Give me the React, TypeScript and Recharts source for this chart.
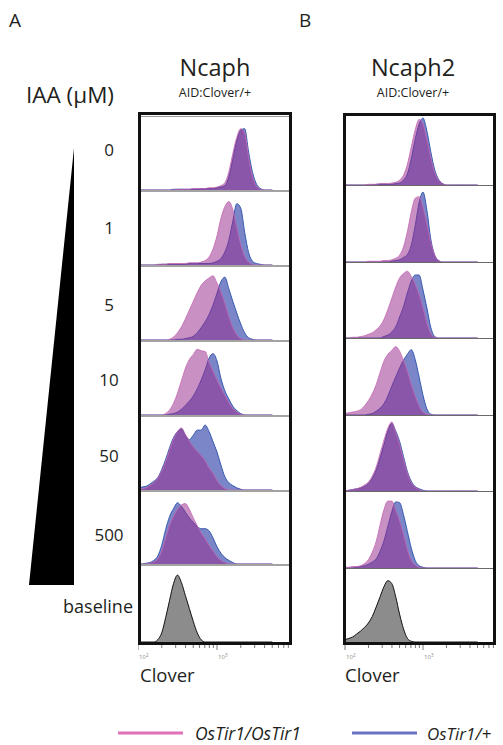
import React from 'react';
import { AreaChart, Area, XAxis, YAxis } from 'recharts';

// log10(Clover intensity) bin centres, 10^2 .. 10^3.7
const bins = [
  2.0, 2.05, 2.1, 2.15, 2.2, 2.25, 2.3, 2.35, 2.4, 2.45,
  2.5, 2.55, 2.6, 2.65, 2.7, 2.75, 2.8, 2.85, 2.9, 2.95,
  3.0, 3.05, 3.1, 3.15, 3.2, 3.25, 3.3, 3.35, 3.4, 3.45,
  3.5, 3.55, 3.6, 3.65, 3.7
];

const concentrations = ['0', '1', '5', '10', '50', '500', 'baseline'];
const axisTicks = [2, 2.301, 2.477, 2.602, 2.699, 2.778, 2.845, 2.903, 2.954, 3, 3.301, 3.477, 3.602, 3.699, 3.778, 3.845, 3.903];

// Ncaph AID:Clover/+  (% of modal height), OsTir1/OsTir1 = pink, OsTir1/+ = blue
const ncaphPink0 = [0,0,0,0,0,0,0,0,0,0, 1,1,1,1,2,2,2,2,3,3, 4,6,10,25,50,72,84,78,45,18, 5,1,0,0,0];
const ncaphBlue0 = [0,0,0,0,0,0,0,0,0,1, 1,1,1,1,1,1,2,2,2,2, 3,4,6,18,42,68,82,84,52,24, 8,2,0,0,0];
const ncaphPink1 = [0,0,0,0,0,1,1,1,2,2, 2,2,2,3,3,3,4,6,11,22, 40,64,80,87,76,52,28,12,4,1, 0,0,0,0,0];
const ncaphBlue1 = [0,0,0,0,0,0,1,1,1,1, 1,1,1,2,2,2,2,2,2,3, 5,9,18,34,60,84,78,45,17,5, 2,1,0,0,0];
const ncaphPink5 = [0,0,0,0,0,0,0,0,1,4, 10,18,29,41,53,65,75,81,85,88, 78,66,50,32,17,7,2,0,0,0, 0,0,0,0,0];
const ncaphBlue5 = [0,0,0,0,0,0,0,0,0,0, 1,1,2,3,5,10,17,25,35,48, 64,80,86,70,53,37,22,10,3,1, 0,0,0,0,0];
const ncaphPink10 = [0,0,0,0,0,0,0,2,7,16, 30,47,64,76,83,90,88,87,72,60, 48,37,27,17,9,4,1,0,0,0, 0,0,0,0,0];
const ncaphBlue10 = [0,0,0,0,0,0,0,0,1,2, 4,8,13,19,26,36,48,62,78,84, 74,50,33,22,12,6,2,0,0,0, 0,0,0,0,0];
const ncaphPink50 = [0,1,3,6,10,16,26,39,55,70, 80,85,76,67,59,53,47,40,30,23, 13,6,2,0,0,0,0,0,0,0, 0,0,0,0,0];
const ncaphBlue50 = [2,4,5,8,12,17,28,42,58,72, 80,84,75,69,75,82,82,89,80,66, 52,34,18,10,6,3,1,0,0,0, 0,0,0,0,0];
const ncaphPink500 = [0,0,0,1,3,7,18,36,54,66, 76,82,84,76,64,53,43,35,26,18, 10,5,2,0,0,0,0,0,0,0, 0,0,0,0,0];
const ncaphBlue500 = [0,0,1,2,5,11,26,48,66,77, 85,80,72,64,58,52,49,49,46,36, 24,15,9,5,2,0,0,0,0,0, 0,0,0,0,0];
const ncaphBaseline = [0,0,0,0,0,3,12,32,55,77, 88,78,61,44,27,12,3,0,0,0, 0,0,0,0,0,0,0,0,0,0, 0,0,0,0,0];

// Ncaph2 AID:Clover/+
const ncaph2Pink0 = [0,0,0,0,0,0,1,1,1,2, 2,2,3,4,7,14,30,55,80,95, 88,66,40,18,7,2,0,0,0,0, 0,0,0,0,0];
const ncaph2Blue0 = [0,0,0,0,0,0,0,0,1,1, 1,1,1,2,3,7,16,38,66,88, 97,78,48,22,8,2,0,0,0,0, 0,0,0,0,0];
const ncaph2Pink1 = [0,0,0,0,0,0,1,1,1,1, 2,2,3,5,9,20,40,66,84,86, 72,50,26,9,2,0,0,0,0,0, 0,0,0,0,0];
const ncaph2Blue1 = [0,0,0,0,0,0,0,0,0,0, 0,0,1,2,3,6,10,22,48,78, 92,68,30,9,2,0,0,0,0,0, 0,0,0,0,0];
const ncaph2Pink5 = [0,0,1,1,2,3,5,7,11,16, 25,38,53,68,80,86,89,82,72,58, 40,20,6,1,0,0,0,0,0,0, 0,0,0,0,0];
const ncaph2Blue5 = [0,0,0,0,0,0,0,0,0,0, 2,4,8,15,28,42,60,76,84,84, 64,40,14,2,0,0,0,0,0,0, 0,0,0,0,0];
const ncaph2Pink10 = [2,3,4,5,7,12,19,28,40,56, 71,80,85,90,84,72,58,40,25,12, 4,1,0,0,0,0,0,0,0,0, 0,0,0,0,0];
const ncaph2Blue10 = [0,0,0,0,0,0,1,2,5,9, 15,25,38,50,62,72,80,86,73,50, 26,8,1,0,0,0,0,0,0,0, 0,0,0,0,0];
const ncaph2Pink50 = [0,1,2,3,5,8,12,20,32,50, 68,84,92,78,62,42,24,11,5,2, 0,0,0,0,0,0,0,0,0,0, 0,0,0,0,0];
const ncaph2Blue50 = [0,1,2,3,4,6,10,17,28,44, 62,80,90,80,66,46,26,13,6,3, 1,0,0,0,0,0,0,0,0,0, 0,0,0,0,0];
const ncaph2Pink500 = [1,1,2,2,3,6,11,21,35,57, 77,88,88,76,62,44,24,10,4,1, 0,0,0,0,0,0,0,0,0,0, 0,0,0,0,0];
const ncaph2Blue500 = [0,0,0,1,2,3,5,8,12,22, 36,55,74,87,86,70,48,26,10,3, 1,0,0,0,0,0,0,0,0,0, 0,0,0,0,0];
const ncaph2Baseline = [3,5,7,11,15,20,26,35,48,62, 76,84,80,62,38,18,5,1,0,0, 0,0,0,0,0,0,0,0,0,0, 0,0,0,0,0];

const FONT = '"Open Sans", Lato, sans-serif';
const TEXT = '#231f20';
const PINK_FILL = '#982a8e';
const PINK_LINE = '#c466b0';
const BLUE_FILL = '#7b86c8';
const BLUE_LINE = '#3559b0';

const panels = [
  {
    title: 'Ncaph', cx: 215, left: 138, top: 112, width: 154,
    rowHeights: [75, 75, 75, 75, 75, 74, 76], topGap: 2,
    tickOffset: 0, pxPerDecade: 79,
    divider: { color: '#a3a3a3', width: 2 },
    rows: [
      [ncaphPink0, ncaphBlue0], [ncaphPink1, ncaphBlue1], [ncaphPink5, ncaphBlue5],
      [ncaphPink10, ncaphBlue10], [ncaphPink50, ncaphBlue50], [ncaphPink500, ncaphBlue500]
    ],
    baseline: ncaphBaseline
  },
  {
    title: 'Ncaph2', cx: 413, left: 343, top: 113, width: 153,
    rowHeights: [70, 77, 76, 77, 76, 77, 73], topGap: 0,
    tickOffset: 2, pxPerDecade: 78,
    divider: { color: '#6a6a6a', width: 1 },
    rows: [
      [ncaph2Pink0, ncaph2Blue0], [ncaph2Pink1, ncaph2Blue1], [ncaph2Pink5, ncaph2Blue5],
      [ncaph2Pink10, ncaph2Blue10], [ncaph2Pink50, ncaph2Blue50], [ncaph2Pink500, ncaph2Blue500]
    ],
    baseline: ncaph2Baseline
  }
];

const labelY = [150, 228, 305, 380, 456, 535];

const LogTick = (props: any) => {
  const { x, y, payload } = props;
  const major = Number.isInteger(payload.value);
  return (
    <g>
      <line x1={x} x2={x} y1={y} y2={y + (major ? 5 : 3)} stroke="#555" strokeWidth={0.8} />
      {major && (
        <text x={x + 1} y={y + 14} fontSize={6} fill="#8a8a8a" fontFamily={FONT}>
          10<tspan dy={-2} fontSize={4.5}>{payload.value}</tspan>
        </text>
      )}
    </g>
  );
};

const HistRow = ({ pink, blue, grey, width, height, domain }: any) => {
  const data = bins.map((lv, i) => ({
    lv,
    pink: pink ? pink[i] : null,
    blue: blue ? blue[i] : null,
    grey: grey ? grey[i] : null
  }));
  return (
    <AreaChart width={width} height={height} data={data} margin={{ top: 0, right: 0, bottom: 0, left: 0 }}>
      <XAxis type="number" dataKey="lv" domain={domain} hide allowDataOverflow />
      <YAxis type="number" domain={[0, 100]} hide allowDataOverflow />
      {blue && (
        <Area type="monotone" dataKey="blue" baseValue={0} fill={BLUE_FILL} fillOpacity={1}
          stroke={BLUE_LINE} strokeWidth={1} isAnimationActive={false} dot={false} activeDot={false} />
      )}
      {pink && (
        <Area type="monotone" dataKey="pink" baseValue={0} fill={PINK_FILL} fillOpacity={0.52}
          stroke={PINK_LINE} strokeWidth={0.8} isAnimationActive={false} dot={false} activeDot={false} />
      )}
      {grey && (
        <Area type="monotone" dataKey="grey" baseValue={0} fill="#8c8c8c" fillOpacity={1}
          stroke="#111" strokeWidth={1} isAnimationActive={false} dot={false} activeDot={false} />
      )}
    </AreaChart>
  );
};

const Panel = ({ panel }: any) => {
  const border = 3;
  const inner = panel.width - 2 * border;
  const lvAt = (px: number) => 2 + (px - panel.tickOffset) / panel.pxPerDecade;
  const innerDomain = [lvAt(border), lvAt(border + inner)];
  const axisDomain = [lvAt(0), lvAt(panel.width)];
  const total = panel.rowHeights.reduce((a: number, b: number) => a + b, 0);
  const boxHeight = total + 2 * border + panel.topGap;
  const axisData = bins.map((lv) => ({ lv }));
  return (
    <>
      <div style={{
        position: 'absolute', left: panel.left, top: panel.top, width: panel.width, height: boxHeight,
        border: `${border}px solid #111`, boxSizing: 'border-box', paddingTop: panel.topGap
      }}>
        {panel.topGap > 0 && (
          <div style={{ position: 'absolute', left: 0, right: 0, top: 1, borderTop: '1px solid #9a9a9a' }} />
        )}
        {panel.rowHeights.map((h: number, i: number) => {
          const last = i === panel.rowHeights.length - 1;
          const dw = last ? 0 : panel.divider.width;
          const row = panel.rows[i];
          return (
            <div key={i} style={{ height: h, boxSizing: 'border-box', borderBottom: last ? 'none' : `${dw}px solid ${panel.divider.color}` }}>
              {last ? (
                <HistRow grey={panel.baseline} width={inner} height={h} domain={innerDomain} />
              ) : (
                <HistRow pink={row[0]} blue={row[1]} width={inner} height={h - dw} domain={innerDomain} />
              )}
            </div>
          );
        })}
      </div>
      <div style={{ position: 'absolute', left: panel.left, top: panel.top + boxHeight - 1 }}>
        <AreaChart width={panel.width} height={25} data={axisData} margin={{ top: 0, right: 0, bottom: 0, left: 0 }}>
          <XAxis type="number" dataKey="lv" domain={axisDomain} ticks={axisTicks} interval={0}
            tick={<LogTick />} tickLine={false} axisLine={false} tickSize={0} tickMargin={0} height={24} allowDataOverflow />
          <YAxis hide domain={[0, 1]} />
        </AreaChart>
      </div>
    </>
  );
};

export default function App() {
  return (
    <div style={{ position: 'fixed', left: 0, top: 0, width: 503, height: 745, background: '#fff', fontFamily: FONT, overflow: 'hidden' }}>
      <svg width={503} height={745} style={{ position: 'absolute', left: 0, top: 0 }} fontFamily={FONT} fill={TEXT}>
        <text x={9} y={27} fontSize={19}>A</text>
        <text x={299} y={27} fontSize={19}>B</text>
        <text x={26} y={103} fontSize={22.5}>IAA (µM)</text>
        {panels.map((p) => (
          <g key={p.title}>
            <text x={p.cx} y={76} fontSize={23.5} textAnchor="middle">{p.title}</text>
            <text x={p.cx} y={97} fontSize={12.5} textAnchor="middle">AID:Clover/+</text>
            <text x={p.left + 2} y={682} fontSize={18.5}>Clover</text>
          </g>
        ))}
        {concentrations.slice(0, 6).map((c, i) => (
          <text key={c} x={109} y={labelY[i] + 6} fontSize={17} textAnchor="middle">{c}</text>
        ))}
        <text x={133} y={613} fontSize={18} textAnchor="end">{concentrations[6]}</text>
        <polygon points="74,148 29,585 74,585" fill="#000" />
        <line x1={118} x2={183} y1={733} y2={733} stroke="#e070b8" strokeWidth={3} />
        <text x={195} y={740} fontSize={17.5} fontStyle="italic">OsTir1/OsTir1</text>
        <line x1={352} x2={417} y1={733} y2={733} stroke="#6a72c2" strokeWidth={3} />
        <text x={427} y={740} fontSize={17} fontStyle="italic">OsTir1/+</text>
      </svg>
      {panels.map((p) => (
        <Panel key={p.title} panel={p} />
      ))}
    </div>
  );
}
